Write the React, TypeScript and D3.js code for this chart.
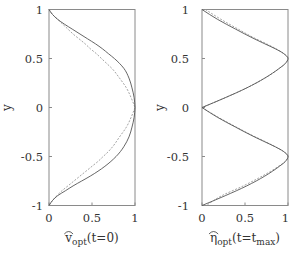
import React, { useRef, useEffect } from "react";
import * as d3 from "d3";

const yTicks = [-1, -0.5, 0, 0.5, 1];
const xTicks = [0, 0.5, 1];

// left panel: v_opt(t=0), x as a function of y
const leftY = [1, 0.95, 0.9, 0.85, 0.8, 0.75, 0.7, 0.65, 0.6, 0.55, 0.5, 0.45, 0.4, 0.3, 0.2, 0.1, 0,
  -0.1, -0.2, -0.3, -0.4, -0.45, -0.5, -0.55, -0.6, -0.65, -0.7, -0.75, -0.8, -0.85, -0.9, -0.95, -1];
const leftSolid = [0, 0.04, 0.1, 0.18, 0.27, 0.36, 0.45, 0.54, 0.62, 0.69, 0.76, 0.82, 0.87, 0.93, 0.965, 0.99, 1,
  0.99, 0.965, 0.93, 0.87, 0.83, 0.78, 0.72, 0.65, 0.57, 0.48, 0.38, 0.28, 0.19, 0.1, 0.04, 0];
const leftDashed = [0, 0.04, 0.1, 0.16, 0.22, 0.28, 0.35, 0.42, 0.48, 0.55, 0.61, 0.67, 0.73, 0.82, 0.9, 0.955, 1,
  0.955, 0.9, 0.82, 0.74, 0.69, 0.63, 0.57, 0.5, 0.43, 0.36, 0.29, 0.22, 0.15, 0.09, 0.04, 0];

// right panel: eta_opt(t=t_max)
const rightY = [1, 0.9, 0.8, 0.7, 0.65, 0.6, 0.55, 0.5, 0.45, 0.4, 0.35, 0.3, 0.2, 0.1, 0,
  -0.1, -0.2, -0.3, -0.35, -0.4, -0.45, -0.5, -0.55, -0.6, -0.65, -0.7, -0.8, -0.9, -1];
const rightSolid = [0, 0.18, 0.39, 0.61, 0.73, 0.85, 0.95, 1, 0.97, 0.9, 0.82, 0.73, 0.52, 0.27, 0,
  0.18, 0.39, 0.61, 0.73, 0.85, 0.95, 1, 0.97, 0.9, 0.82, 0.73, 0.52, 0.27, 0];
const rightDashed = [0.04, 0.22, 0.42, 0.63, 0.75, 0.86, 0.95, 1, 0.97, 0.9, 0.82, 0.73, 0.52, 0.27, 0,
  0.19, 0.4, 0.62, 0.74, 0.85, 0.95, 1, 0.97, 0.89, 0.8, 0.7, 0.48, 0.23, 0.05];

const WIDTH = 290;
const HEIGHT = 254;
const textColor = "#333";
const frameColor = "#8a8a8a";
const serif = "'DejaVu Serif', serif";

type Panel = {
  left: number;
  right: number;
  labelRight: number;
  yLabelX: number;
  ys: number[];
  solid: number[];
  dashed: number[];
  title: { sym: string; parts: { t: string; sub?: boolean }[] };
};

const panels: Panel[] = [
  {
    left: 49, right: 135, labelRight: 43, yLabelX: 11,
    ys: leftY, solid: leftSolid, dashed: leftDashed,
    title: { sym: "v", parts: [{ t: "opt", sub: true }, { t: "(t=0)" }] },
  },
  {
    left: 202, right: 288, labelRight: 189, yLabelX: 164,
    ys: rightY, solid: rightSolid, dashed: rightDashed,
    title: { sym: "\u03b7", parts: [{ t: "opt", sub: true }, { t: "(t=t" }, { t: "max", sub: true }, { t: ")" }] },
  },
];

const App: React.FC = () => {
  const svgRef = useRef<SVGSVGElement | null>(null);

  useEffect(() => {
    const svg = d3.select(svgRef.current);
    svg.selectAll("*").remove();

    const top = 9.5;
    const bottom = 205.5;

    panels.forEach((p) => {
      const x = d3.scaleLinear().domain([0, 1]).range([p.left, p.right]);
      const y = d3.scaleLinear().domain([-1, 1]).range([bottom, top]);
      const g = svg.append("g").style("font-family", serif);

      // frame
      g.append("rect")
        .attr("x", p.left)
        .attr("y", top)
        .attr("width", p.right - p.left)
        .attr("height", bottom - top)
        .attr("fill", "none")
        .attr("stroke", frameColor)
        .attr("stroke-width", 1);

      // ticks (inward)
      yTicks.forEach((t) => {
        g.append("line")
          .attr("x1", p.left).attr("x2", p.left + 3)
          .attr("y1", y(t)).attr("y2", y(t))
          .attr("stroke", frameColor);
        g.append("text")
          .attr("x", p.labelRight)
          .attr("y", y(t))
          .attr("dy", "0.35em")
          .attr("text-anchor", "end")
          .attr("font-size", 11.5)
          .attr("fill", textColor)
          .text(String(t));
      });
      xTicks.forEach((t) => {
        g.append("line")
          .attr("x1", x(t)).attr("x2", x(t))
          .attr("y1", bottom).attr("y2", bottom - 3)
          .attr("stroke", frameColor);
        g.append("text")
          .attr("x", Math.min(x(t), WIDTH - 4.5))
          .attr("y", 222)
          .attr("text-anchor", "middle")
          .attr("font-size", 11.5)
          .attr("fill", textColor)
          .text(String(t));
      });

      // y label
      g.append("text")
        .attr("transform", `translate(${p.yLabelX},${y(0)}) rotate(-90)`)
        .attr("text-anchor", "middle")
        .attr("font-size", 12)
        .attr("fill", textColor)
        .text("y");

      // curves, split at the cusp y = 0
      const line = d3
        .line<[number, number]>()
        .x((d) => x(d[1]))
        .y((d) => y(d[0]))
        .curve(d3.curveMonotoneY);

      const drawSeries = (xs: number[], color: string, dash: string | null) => {
        const pts: [number, number][] = p.ys.map((v, i) => [v, xs[i]]);
        const k = p.ys.indexOf(0);
        [pts.slice(0, k + 1), pts.slice(k)].forEach((seg) => {
          g.append("path")
            .datum(seg)
            .attr("fill", "none")
            .attr("stroke", color)
            .attr("stroke-width", 0.9)
            .attr("stroke-dasharray", dash)
            .attr("d", line);
        });
      };
      drawSeries(p.dashed, "#999", "2,1.5");
      drawSeries(p.solid, "#555", null);

      // title with hat and subscripts
      const title = g.append("text")
        .attr("x", (p.left + p.right) / 2)
        .attr("y", 242)
        .attr("text-anchor", "middle")
        .attr("font-size", 12)
        .attr("fill", textColor);
      title.append("tspan").text(p.title.sym);
      let sub = false;
      p.title.parts.forEach((part) => {
        const ts = title.append("tspan").text(part.t);
        if (part.sub) { ts.attr("dy", sub ? 0 : 3).attr("font-size", 9); sub = true; }
        else if (sub) { ts.attr("dy", -3); sub = false; }
      });
      const node = title.node() as SVGTextElement;
      const box = node.getExtentOfChar(0);
      const hx0 = box.x - 1;
      const hx1 = box.x + box.width + 1;
      const hy = box.y + 2;
      g.append("path")
        .attr("d", `M${hx0},${hy + 1} Q${(hx0 + hx1) / 2},${hy - 4} ${hx1},${hy + 1}`)
        .attr("fill", "none")
        .attr("stroke", textColor)
        .attr("stroke-width", 0.8);
    });
  }, []);

  return (
    <div style={{ position: "fixed", left: 0, top: 0, background: "#fff" }}>
      <svg ref={svgRef} width={WIDTH} height={HEIGHT} style={{ display: "block" }}></svg>
    </div>
  );
};

export default App;
